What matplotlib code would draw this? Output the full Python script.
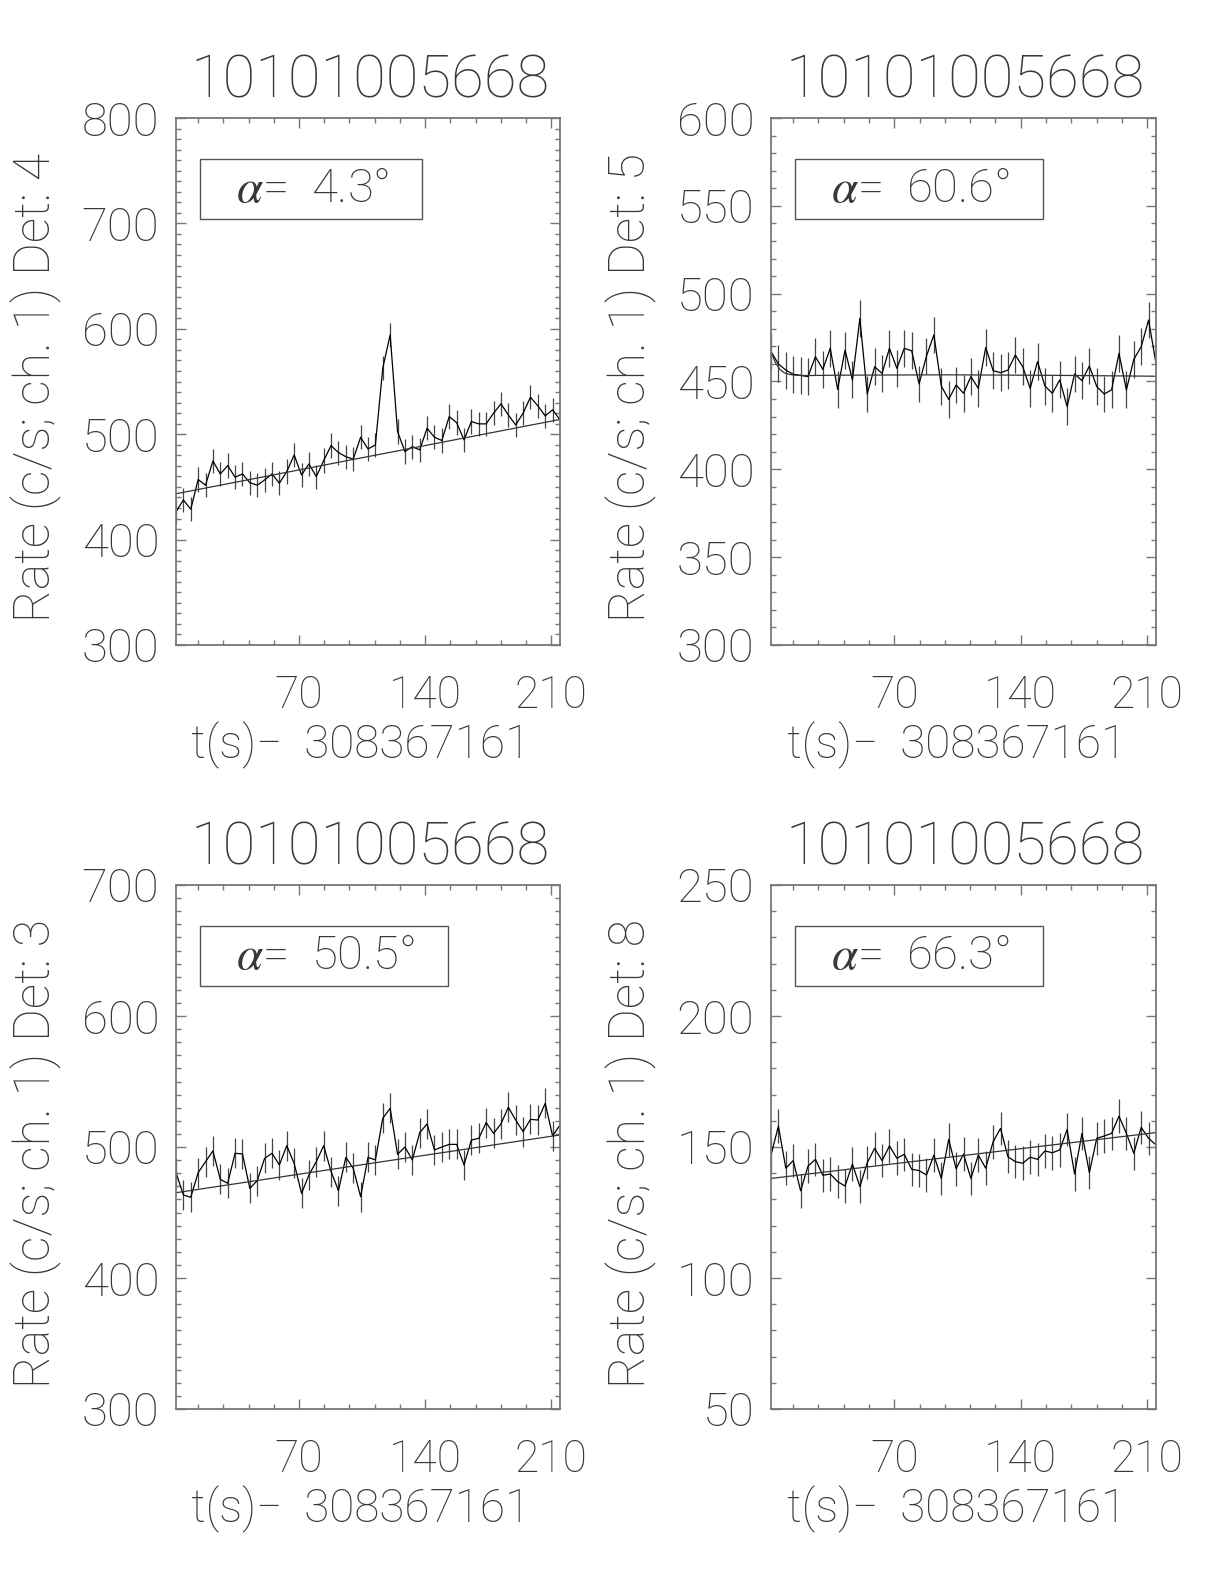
import matplotlib
matplotlib.use("Agg")
import matplotlib.pyplot as plt
from matplotlib.ticker import MultipleLocator
from matplotlib.patches import Rectangle

plt.rcParams['font.family'] = ['Roboto', 'DejaVu Sans']
plt.rcParams['font.weight'] = 100
plt.rcParams['mathtext.fontset'] = 'custom'
plt.rcParams['mathtext.it'] = 'STIXGeneral:italic'
plt.rcParams['mathtext.rm'] = 'Roboto:weight=ultralight'

# time bins (s after 308367161)
t = [1.7, 5.8, 9.9, 14.0, 18.1, 22.2, 26.3, 30.4, 34.5, 38.6, 42.7, 46.8, 50.9,
     55.0, 59.1, 63.2, 67.3, 71.4, 75.5, 79.6, 83.7, 87.8, 91.9, 96.0, 100.1,
     104.2, 108.3, 112.4, 116.5, 120.6, 124.7, 128.8, 132.9, 137.0, 141.1, 145.2,
     149.3, 153.4, 157.5, 161.6, 165.7, 169.8, 173.9, 178.0, 182.1, 186.2, 190.3,
     194.4, 198.5, 202.6, 206.7, 210.8, 214.9]

# Det 4
rate4 = [426.5, 437.6, 428.8, 457.0, 451.6, 474.6, 462.3, 470.2, 459.2, 462.3,
         454.0, 451.6, 456.6, 462.3, 453.5, 464.5, 480.3, 461.3, 471.8, 459.7,
         475.0, 489.2, 482.5, 478.7, 476.3, 497.1, 486.0, 489.8, 562.7, 594.3,
         502.5, 483.5, 488.2, 485.1, 505.7, 497.1, 494.0, 516.7, 511.0, 494.6,
         512.0, 509.8, 509.8, 519.9, 528.8, 518.3, 508.8, 519.9, 535.1, 526.9,
         517.4, 523.1, 513.6]
err4 = 11.5
fit4_t = [1.7, 214.9]
fit4 = [443.5, 514.0]

# Det 5
rate5 = [467.0, 460.0, 456.5, 454.1, 453.5, 452.8, 464.1, 456.9, 468.9, 445.5,
         467.9, 450.9, 485.9, 442.9, 458.4, 454.6, 468.9, 457.5, 468.9, 467.5,
         448.6, 464.5, 476.5, 447.4, 439.8, 448.0, 443.3, 452.8, 446.1, 469.4,
         456.2, 455.0, 456.5, 465.1, 458.4, 446.1, 461.3, 447.4, 443.3, 450.9,
         435.7, 454.3, 450.5, 458.8, 447.1, 442.9, 445.2, 466.0, 445.2, 462.6,
         469.8, 485.0, 460.3]
err5 = 10.5
fit5_t = [1.7, 4.0, 6.5, 9.0, 12.0, 16.0, 22.0, 40.0, 100.0, 160.0, 214.9]
fit5 = [467.0, 461.0, 457.0, 455.0, 454.0, 453.5, 453.4, 453.6, 453.8, 453.5, 453.0]

# Det 3
rate3 = [480.4, 463.4, 461.6, 480.4, 488.8, 497.0, 475.3, 472.3, 495.2, 494.7,
         468.4, 474.3, 491.3, 495.2, 486.3, 501.0, 487.5, 464.6, 478.6, 488.8,
         501.0, 481.2, 466.7, 492.1, 483.7, 462.1, 492.1, 490.1, 521.9, 529.5,
         494.4, 500.0, 490.1, 510.9, 517.6, 497.7, 500.0, 502.0, 502.0, 486.3,
         505.3, 506.6, 518.6, 510.4, 517.6, 530.3, 520.6, 511.7, 521.1, 520.6,
         533.3, 508.4, 516.8]
err3 = 11.5
fit3_t = [1.7, 214.9]
fit3 = [465.1, 509.2]

# Det 8
rate8 = [146.9, 158.0, 141.9, 144.8, 133.3, 142.7, 145.3, 139.2, 139.7, 136.8,
         135.1, 143.5, 134.9, 144.0, 149.5, 144.8, 150.4, 145.7, 147.2, 141.5,
         141.0, 139.3, 146.9, 138.0, 152.9, 141.7, 147.3, 138.0, 146.9, 141.9,
         152.0, 157.1, 146.3, 144.4, 143.8, 146.1, 145.3, 148.5, 147.8, 148.9,
         156.7, 139.7, 155.2, 140.2, 153.3, 154.2, 155.2, 161.8, 155.2, 147.6,
         157.5, 153.3, 150.8]
err8 = 6.4
fit8_t = [1.7, 214.9]
fit8 = [138.0, 155.5]

title = '1010100566 8'.replace(' ', '')
panels = [
    (rate4, err4, fit4_t, fit4, 4, r'$\alpha$=  4.3°', (300, 800), 100),
    (rate5, err5, fit5_t, fit5, 5, r'$\alpha$=  60.6°', (300, 600), 50),
    (rate3, err3, fit3_t, fit3, 3, r'$\alpha$=  50.5°', (300, 700), 100),
    (rate8, err8, fit8_t, fit8, 8, r'$\alpha$=  66.3°', (50, 250), 50),
]
# axes boxes in pixels: left, top, right, bottom
boxes = [(176, 118, 560, 645), (771, 118, 1156, 645),
         (176, 885, 560, 1409), (771, 885, 1156, 1409)]

W, H = 1224, 1584
txtc = '#383838'
fig = plt.figure(figsize=(W / 100, H / 100), dpi=100)
renderer = fig.canvas.get_renderer()

def fx(px):
    return px / W

def fy(py):
    return 1 - py / H

for (l, tp, r, b), (rate, err, ft, fv, det, lab, ylim, ymaj) in zip(boxes, panels):
    ax = fig.add_axes([fx(l), fy(b), (r - l) / W, (b - tp) / H])
    ax.errorbar(t, rate, yerr=err, fmt='none', ecolor='#444444', elinewidth=0.9)
    ax.plot(t, rate, color='black', lw=0.9)
    ax.plot(ft, fv, color='#333333', lw=0.9)
    ax.set_xlim(1.7, 214.9)
    ax.set_ylim(*ylim)
    ax.xaxis.set_major_locator(MultipleLocator(70))
    ax.xaxis.set_minor_locator(MultipleLocator(14))
    ax.yaxis.set_major_locator(MultipleLocator(ymaj))
    ax.yaxis.set_minor_locator(MultipleLocator(10))
    ax.tick_params(which='both', direction='in', top=True, right=True,
                   color='#777777', labelcolor=txtc, width=1)
    ax.tick_params(axis='y', labelsize=34, pad=12)
    ax.tick_params(axis='x', labelsize=32, pad=21)
    ax.tick_params(which='major', length=7)
    ax.tick_params(which='minor', length=3.5)
    for s in ax.spines.values():
        s.set_color('#777777')
        s.set_linewidth(1.3)

    cx = (l + r) / 2
    fig.text(fx(cx + 2), fy(tp - 37), title, fontsize=43, color=txtc,
             ha='center', va='center', fontweight=100)
    fig.text(fx(cx - 7), fy(b + 100), 't(s)\u2212  308367161', fontsize=33,
             color=txtc, ha='center', va='center', fontweight=100)
    fig.text(fx(l - 140), fy((tp + b) / 2 + 6), 'Rate (c/s; ch. 1) Det: %d' % det,
             fontsize=36, color=txtc, ha='center', va='center', rotation=90,
             fontweight=100)

    # alpha box
    tx = fig.text(fx(l + 60), fy(tp + 71), lab, fontsize=34, color=txtc,
                  ha='left', va='center', fontweight=100)
    ext = tx.get_window_extent(renderer)
    x0 = ext.x0 - 36
    x1 = ext.x1 + 33
    fig.add_artist(Rectangle((fx(x0), fy(tp + 101)), (x1 - x0) / W, 60 / H,
                             transform=fig.transFigure, fill=False,
                             ec='#555555', lw=1))

fig.savefig('out.png', dpi=100)
